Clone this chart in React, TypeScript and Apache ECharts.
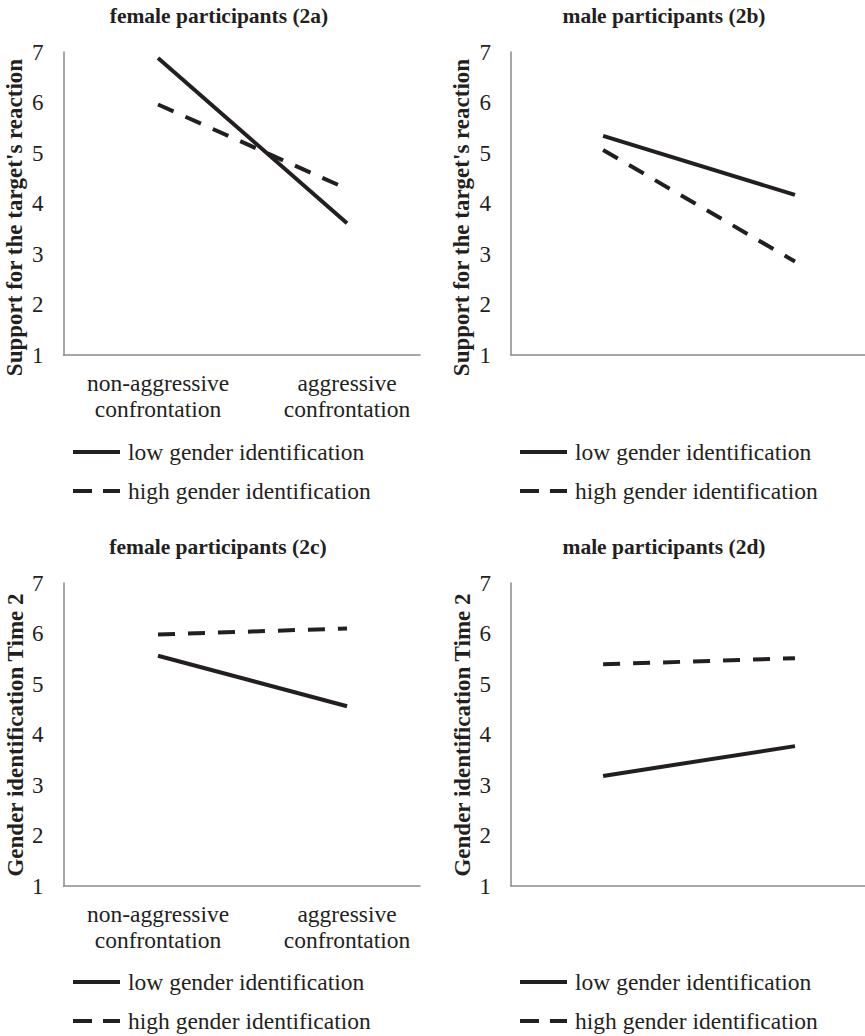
import React, { useEffect, useRef } from "react";
import * as echarts from "echarts";

const categories = ["non-aggressive\nconfrontation", "aggressive\nconfrontation"];
const seriesNames = ["low gender identification", "high gender identification"];
const yTicks = [1, 2, 3, 4, 5, 6, 7];

const panelTitles = [
  "female participants (2a)",
  "male participants (2b)",
  "female participants (2c)",
  "male participants (2d)",
];
const yAxisTitles = [
  "Support for the target's reaction",
  "Support for the target's reaction",
  "Gender identification Time 2",
  "Gender identification Time 2",
];

// values per panel: [low, high]
const lowA = [6.88, 3.61];
const highA = [5.96, 4.29];
const lowB = [5.34, 4.17];
const highB = [5.06, 2.85];
const lowC = [5.56, 4.56];
const highC = [5.98, 6.1];
const lowD = [3.18, 3.77];
const highD = [5.39, 5.51];

const panelData = [
  [lowA, highA],
  [lowB, highB],
  [lowC, highC],
  [lowD, highD],
];

const FONT = "Liberation Serif";
const INK = "#231f20";
const AXIS = "#8a8a8a";

const SOLID_ICON = "path://M0,0H47V4H0Z";
const DASH_ICON = "path://M0,0H19V4H0ZM30,0H47V4H30Z";

// layout (positions only)
const panels = [
  { left: 63.5, top: 52, width: 356.5, xmin: -0.5, xmax: 1.386, titleX: 219, titleY: 16, yTitleX: 14, yTitleY: 217.5, legLeft: 73, legTop: 440 },
  { left: 511, top: 52, width: 354, xmin: -0.48, xmax: 1.365, titleX: 664, titleY: 16, yTitleX: 461, yTitleY: 217.5, legLeft: 520, legTop: 440 },
  { left: 63.5, top: 583, width: 356.5, xmin: -0.5, xmax: 1.386, titleX: 218, titleY: 547, yTitleX: 15, yTitleY: 735, legLeft: 73, legTop: 970 },
  { left: 511, top: 583, width: 354, xmin: -0.48, xmax: 1.365, titleX: 664, titleY: 547, yTitleX: 462, yTitleY: 735, legLeft: 520, legTop: 970 },
];
const PLOT_H = 303;

export default function App() {
  const ref = useRef<HTMLDivElement>(null);

  useEffect(() => {
    if (!ref.current) return;
    const chart = echarts.init(ref.current, null, { renderer: "svg" });

    const grid: any[] = [];
    const xAxis: any[] = [];
    const yAxis: any[] = [];
    const series: any[] = [];
    const legend: any[] = [];
    const graphic: any[] = [];

    panels.forEach((p, k) => {
      grid.push({
        left: p.left,
        top: p.top,
        width: p.width,
        height: PLOT_H,
        containLabel: false,
        outerBoundsMode: "none",
      });
      xAxis.push({
        type: "value",
        gridIndex: k,
        min: p.xmin,
        max: p.xmax,
        interval: 0.5,
        axisLine: { show: true, onZero: false, lineStyle: { color: AXIS, width: 1.5 } },
        axisTick: { show: false },
        splitLine: { show: false },
        axisLabel: {
          show: true,
          showMinLabel: false,
          showMaxLabel: false,
          margin: 15,
          fontFamily: FONT,
          fontSize: 23.5,
          lineHeight: 26,
          color: INK,
          align: "center",
          formatter: (v: number) => {
            const i = Math.round(v);
            return Math.abs(v - i) < 1e-6 && categories[i] !== undefined ? categories[i] : "";
          },
        },
      });
      yAxis.push({
        type: "value",
        gridIndex: k,
        min: yTicks[0],
        max: yTicks[yTicks.length - 1],
        interval: 1,
        axisLine: { show: true, onZero: false, lineStyle: { color: AXIS, width: 1.5 } },
        axisTick: { show: false },
        splitLine: { show: false },
        axisLabel: {
          margin: 20,
          fontFamily: FONT,
          fontSize: 23,
          color: INK,
        },
      });
      const [low, high] = panelData[k];
      series.push({
        type: "line",
        name: seriesNames[0],
        xAxisIndex: k,
        yAxisIndex: k,
        symbol: "none",
        silent: true,
        lineStyle: { color: INK, width: 4, type: "solid" },
        itemStyle: { color: INK },
        data: low.map((v, i) => [i, v]),
      });
      series.push({
        type: "line",
        name: seriesNames[1],
        xAxisIndex: k,
        yAxisIndex: k,
        symbol: "none",
        silent: true,
        lineStyle: { color: INK, width: 4, type: [17, 13] },
        itemStyle: { color: INK },
        data: high.map((v, i) => [i, v]),
      });
      legend.push({
        data: [
          { name: seriesNames[0], icon: SOLID_ICON },
          { name: seriesNames[1], icon: DASH_ICON },
        ],
        orient: "vertical",
        left: p.legLeft,
        top: p.legTop,
        padding: 0,
        itemWidth: 47,
        itemHeight: 4,
        itemGap: 15,
        itemStyle: { color: INK, borderWidth: 0 },
        lineStyle: { width: 0 },
        textStyle: { fontFamily: FONT, fontSize: 23.5, color: INK, padding: [0, 0, 0, 3] },
        selectedMode: false,
      });
      graphic.push({
        type: "text",
        x: p.titleX,
        y: p.titleY,
        style: {
          text: panelTitles[k],
          fontFamily: FONT,
          fontSize: 21.5,
          fontWeight: "bold",
          fill: INK,
          textAlign: "center",
          textVerticalAlign: "middle",
        },
      });
      graphic.push({
        type: "text",
        x: p.yTitleX,
        y: p.yTitleY,
        rotation: Math.PI / 2,
        style: {
          text: yAxisTitles[k],
          fontFamily: FONT,
          fontSize: 23,
          fontWeight: "bold",
          fill: INK,
          textAlign: "center",
          textVerticalAlign: "middle",
        },
      });
    });

    chart.setOption({
      animation: false,
      backgroundColor: "#ffffff",
      textStyle: { fontFamily: FONT },
      grid,
      xAxis,
      yAxis,
      series,
      legend,
      graphic,
    });

    return () => chart.dispose();
  }, []);

  return (
    <div
      ref={ref}
      style={{ position: "fixed", left: 0, top: 0, width: 865, height: 1036, background: "#fff" }}
    />
  );
}
